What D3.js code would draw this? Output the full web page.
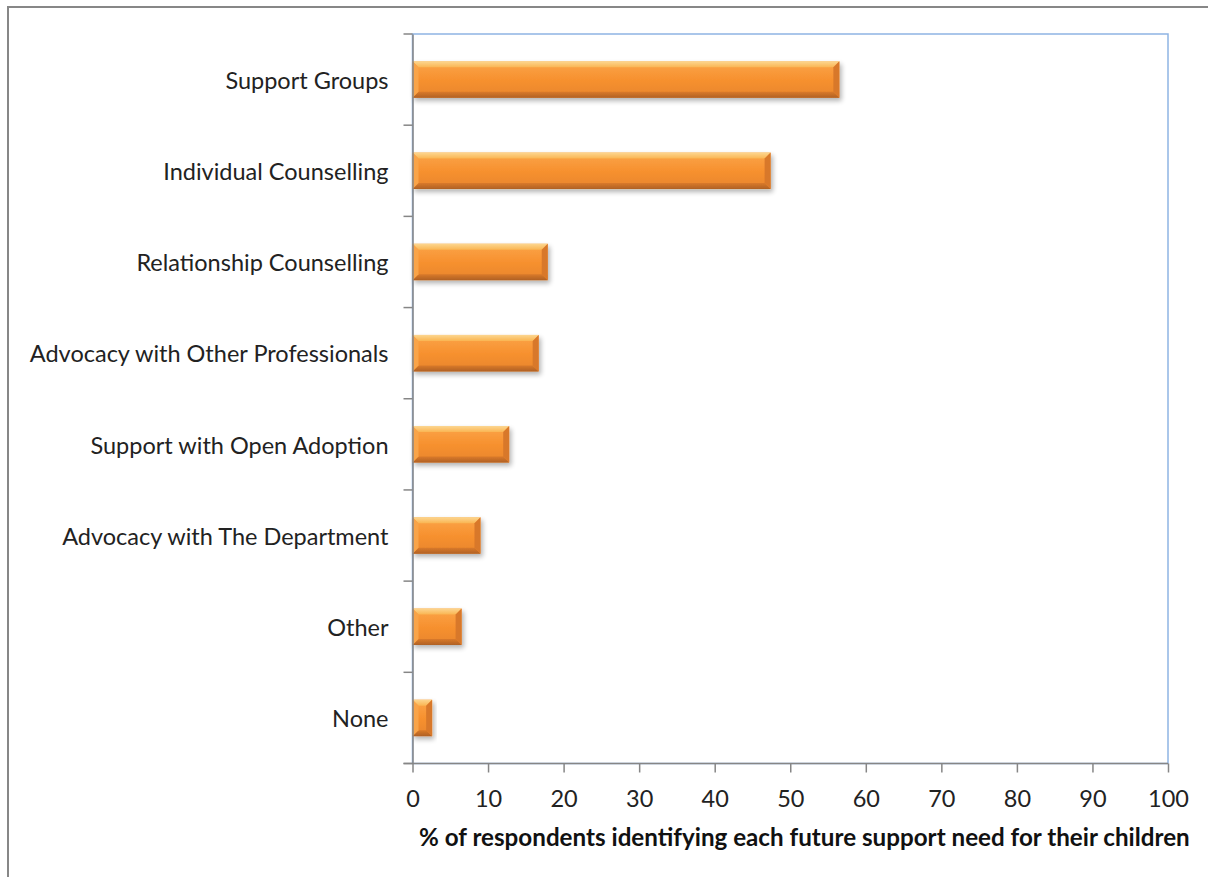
<!DOCTYPE html>
<html>
<head>
<meta charset="utf-8">
<script src="https://cdn.jsdelivr.net/npm/d3@7"></script>
<style>
  html, body { margin: 0; padding: 0; background: #fff; }
  svg { display: block; }
</style>
</head>
<body>
<svg id="chart" width="1208" height="877"></svg>
<script>
// Support needs, % of respondents
const categories = [
  "Support Groups",
  "Individual Counselling",
  "Relationship Counselling",
  "Advocacy with Other Professionals",
  "Support with Open Adoption",
  "Advocacy with The Department",
  "Other",
  "None"
];
const values = [56.5, 47.4, 17.9, 16.7, 12.8, 9.0, 6.5, 2.6];
const xTicks = [0, 10, 20, 30, 40, 50, 60, 70, 80, 90, 100];
const xTitle = "% of respondents identifying each future support need for their children";

const data = categories.map((c, i) => ({ cat: c, val: values[i] }));

const svg = d3.select("#chart");
const W = 1208, H = 877;
const plot = { left: 412.5, right: 1168, top: 34, bottom: 763.5 };

const FONT = "Lato, 'Open Sans', sans-serif";

// outer chart frame (extends past the page edge on the right and bottom)
svg.append("rect")
  .attr("x", 8).attr("y", 7)
  .attr("width", W + 20).attr("height", H + 20)
  .attr("fill", "#fff")
  .attr("stroke", "#878787").attr("stroke-width", 2);

const x = d3.scaleLinear().domain([0, 100]).range([plot.left, plot.right]);
const y = d3.scaleBand().domain(categories)
  .range([plot.top, plot.bottom])
  .paddingInner(0.6).paddingOuter(0.3);

// plot-area border
svg.append("rect")
  .attr("x", plot.left).attr("y", plot.top)
  .attr("width", plot.right - plot.left).attr("height", plot.bottom - plot.top)
  .attr("fill", "none")
  .attr("stroke", "#8EB4E3").attr("stroke-width", 1.5);

const defs = svg.append("defs");

// body gradient of the bevelled bars
const body = defs.append("linearGradient").attr("id", "barBody")
  .attr("x1", 0).attr("y1", 0).attr("x2", 0).attr("y2", 1);
[[0, "#FBA54A"], [0.5, "#F7912F"], [1, "#E8852C"]].forEach(([o, c]) =>
  body.append("stop").attr("offset", o).attr("stop-color", c));

const topG = defs.append("linearGradient").attr("id", "bevelTop")
  .attr("x1", 0).attr("y1", 0).attr("x2", 0).attr("y2", 1);
[[0, "#FCD690"], [1, "#FAB552"]].forEach(([o, c]) =>
  topG.append("stop").attr("offset", o).attr("stop-color", c));

const botG = defs.append("linearGradient").attr("id", "bevelBot")
  .attr("x1", 0).attr("y1", 0).attr("x2", 0).attr("y2", 1);
[[0, "#D6772A"], [1, "#A65A22"]].forEach(([o, c]) =>
  botG.append("stop").attr("offset", o).attr("stop-color", c));

const shadow = defs.append("filter").attr("id", "barShadow")
  .attr("x", "-10%").attr("y", "-30%").attr("width", "130%").attr("height", "170%");
shadow.append("feGaussianBlur").attr("in", "SourceAlpha").attr("stdDeviation", 2.5).attr("result", "b");
shadow.append("feOffset").attr("in", "b").attr("dx", 2).attr("dy", 3).attr("result", "o");
shadow.append("feComponentTransfer").attr("in", "o").attr("result", "s")
  .append("feFuncA").attr("type", "linear").attr("slope", 0.3);
const merge = shadow.append("feMerge");
merge.append("feMergeNode").attr("in", "s");
merge.append("feMergeNode").attr("in", "SourceGraphic");

// bars
const bars = svg.append("g").selectAll("g.bar").data(data).join("g")
  .attr("class", "bar")
  .attr("filter", "url(#barShadow)");

const bev = 6;
bars.each(function (d) {
  const g = d3.select(this);
  const x0 = x(0), x1 = x(d.val);
  const y0 = y(d.cat), y1 = y0 + y.bandwidth();
  const b = Math.min(bev, (x1 - x0) / 2);
  g.append("rect").attr("x", x0).attr("y", y0)
    .attr("width", x1 - x0).attr("height", y1 - y0).attr("fill", "url(#barBody)");
  // top bevel
  g.append("path").attr("d", `M${x0},${y0}L${x1},${y0}L${x1 - b},${y0 + bev}L${x0 + b},${y0 + bev}Z`)
    .attr("fill", "url(#bevelTop)");
  // bottom bevel
  g.append("path").attr("d", `M${x0},${y1}L${x1},${y1}L${x1 - b},${y1 - bev}L${x0 + b},${y1 - bev}Z`)
    .attr("fill", "url(#bevelBot)").attr("opacity", 0.85);
  // left bevel
  g.append("path").attr("d", `M${x0},${y0}L${x0 + b},${y0 + bev}L${x0 + b},${y1 - bev}L${x0},${y1}Z`)
    .attr("fill", "#F9A448");
  // right bevel
  g.append("path").attr("d", `M${x1},${y0}L${x1 - b},${y0 + bev}L${x1 - b},${y1 - bev}L${x1},${y1}Z`)
    .attr("fill", "#D8782C");
});

// category axis line
const yAxis = d3.axisLeft(y).tickSize(0).tickPadding(0).tickFormat("");
const yg = svg.append("g").attr("transform", `translate(${plot.left},0)`).call(yAxis);
yg.select(".domain").attr("stroke", "#868686").attr("stroke-width", 1.5);
// category separators between bands
const seps = d3.range(categories.length + 1).map(i => plot.top + i * y.step());
svg.append("g").selectAll("line").data(seps).join("line")
  .attr("x1", plot.left - 9).attr("x2", plot.left)
  .attr("y1", d => d).attr("y2", d => d)
  .attr("stroke", "#868686").attr("stroke-width", 1.5);

svg.append("g").selectAll("text").data(categories).join("text")
  .attr("x", plot.left - 24)
  .attr("y", d => y(d) + y.bandwidth() / 2 + 1)
  .attr("dy", "0.35em")
  .attr("text-anchor", "end")
  .attr("font-family", FONT).attr("font-size", 23.5)
  .attr("fill", "#222")
  .text(d => d);

// value axis
const xAxis = d3.axisBottom(x).tickValues(xTicks).tickSize(9).tickPadding(18);
const xg = svg.append("g").attr("transform", `translate(0,${plot.bottom})`).call(xAxis);
xg.select(".domain").attr("stroke", "#868686").attr("stroke-width", 1.5)
  .attr("d", `M${plot.left - 9},0H${plot.right}`);
xg.selectAll(".tick line").attr("stroke", "#868686").attr("stroke-width", 1.5);
xg.selectAll(".tick text")
  .attr("font-family", FONT).attr("font-size", 23.5).attr("fill", "#222");

svg.append("text")
  .attr("x", 419).attr("y", 846)
  .attr("font-family", FONT).attr("font-size", 24.2).attr("font-weight", "bold")
  .attr("fill", "#111")
  .text(xTitle);
</script>
</body>
</html>
